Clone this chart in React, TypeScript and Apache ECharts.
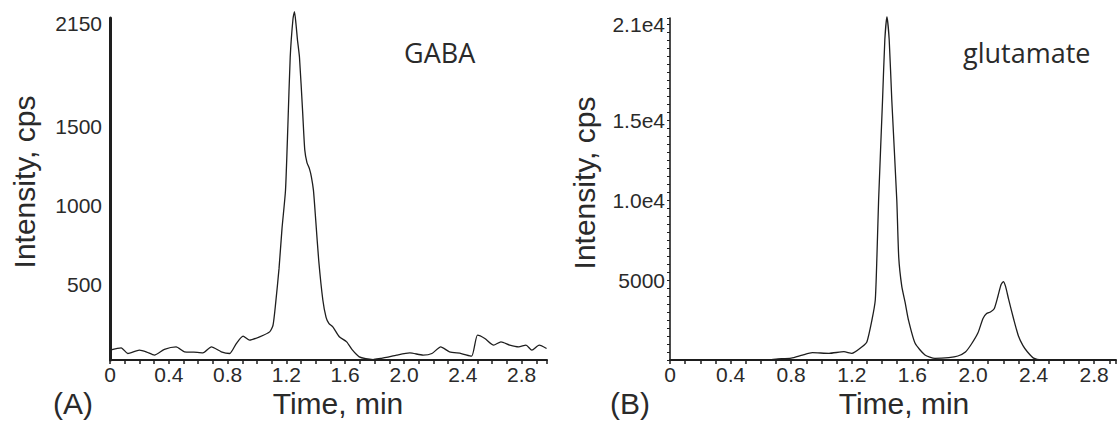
import React, { useEffect, useRef } from "react";
import * as echarts from "echarts";

// Panel A: GABA chromatogram (time in min, intensity in cps)
const timeA = [
  0, 0.076, 0.121, 0.2, 0.25, 0.302, 0.37, 0.45, 0.507, 0.57, 0.632, 0.69, 0.757, 0.814, 0.859,
  0.905, 0.95, 1.018, 1.086, 1.109, 1.127, 1.15, 1.17, 1.194, 1.21, 1.226, 1.245, 1.255, 1.265,
  1.275, 1.289, 1.31, 1.325, 1.34, 1.357, 1.37, 1.384, 1.4, 1.42, 1.448, 1.47, 1.49, 1.516, 1.56,
  1.61, 1.65, 1.696, 1.74, 1.79, 1.84, 1.88, 1.95, 2.04, 2.13, 2.19, 2.25, 2.31, 2.39, 2.46, 2.5,
  2.55, 2.61, 2.66, 2.72, 2.78, 2.83, 2.87, 2.92, 2.97,
];
const intensityA = [
  82, 97, 61, 82, 70, 51, 87, 103, 72, 70, 65, 103, 72, 61, 124,
  171, 146, 167, 198, 240, 380, 600, 850, 1095, 1500, 1937, 2180, 2225, 2150,
  2050, 1937, 1600, 1350, 1270, 1230, 1180, 1095, 900, 650, 400, 290, 250, 230, 167,
  135, 82, 40, 28, 23, 30, 36, 51, 65, 51, 61, 103, 72, 61, 44, 177,
  156, 114, 135, 114, 103, 114, 82, 114, 93,
];

// Panel B: glutamate chromatogram
const timeB = [
  0, 0.65, 0.7, 0.8, 0.874, 0.94, 1.05, 1.148, 1.2, 1.268, 1.3, 1.333, 1.355, 1.366, 1.377,
  1.403, 1.418, 1.432, 1.447, 1.464, 1.497, 1.51, 1.53, 1.552, 1.574, 1.618, 1.683, 1.749,
  1.84, 1.9, 1.95, 1.99, 2.033, 2.066, 2.09, 2.115, 2.14, 2.165, 2.185, 2.2, 2.215, 2.235,
  2.27, 2.3, 2.33, 2.36, 2.4, 2.45, 2.6, 2.94,
];
const intensityB = [
  0, 0, 60, 120, 312, 458, 417, 521, 417, 833, 1146, 2500, 3750, 6500, 10000,
  16250, 20000, 21450, 20000, 16250, 10000, 6400, 4600, 3600, 2500, 1042, 312, 104,
  150, 250, 500, 1000, 1700, 2600, 2900, 3000, 3200, 4000, 4700, 4900, 4600, 3800,
  2500, 1500, 900, 500, 120, 0, 0, 0,
];

const xTickLabels = ["0", "0.4", "0.8", "1.2", "1.6", "2.0", "2.4", "2.8"];
const yTickValuesA = [500, 1000, 1500, 2150];
const yTickLabelsA = ["500", "1000", "1500", "2150"];
const yTickValuesB = [5000, 10000, 15000, 21000];
const yTickLabelsB = ["5000", "1.0e4", "1.5e4", "2.1e4"];

const INK = "#1e1e1e";
const LABEL = "#2a2a2a";
const SANS = "'Liberation Sans', Arial, sans-serif";

function xFormatter(v: number) {
  for (const l of xTickLabels) {
    if (Math.abs(parseFloat(l) - v) < 1e-6) return l;
  }
  return "";
}

function makeYFormatter(vals: number[], labels: string[]) {
  return (v: number) => {
    for (let i = 0; i < vals.length; i++) {
      if (Math.abs(vals[i] - v) < 1e-6) return labels[i];
    }
    return "";
  };
}

const zip = (xs: number[], ys: number[]) => xs.map((x, i) => [x, ys[i]]);

export default function App() {
  const ref = useRef<HTMLDivElement>(null);
  useEffect(() => {
    if (!ref.current) return;
    const chart = echarts.init(ref.current, undefined, { renderer: "svg" });
    const xAxisBase = (gridIndex: number, max: number) => ({
      type: "value",
      gridIndex,
      min: 0,
      max,
      interval: 0.1,
      axisLine: { show: true, onZero: false, lineStyle: { color: INK, width: 2 } },
      axisTick: { show: true, length: 4, lineStyle: { color: INK, width: 1.5 } },
      axisLabel: {
        formatter: xFormatter,
        margin: 4,
        fontSize: 21,
        fontFamily: SANS,
        color: LABEL,
        showMinLabel: true,
        showMaxLabel: true,
      },
      splitLine: { show: false },
    });
    const lineSeries = (idx: number, data: number[][]) => ({
      type: "line",
      xAxisIndex: idx,
      yAxisIndex: idx,
      data,
      symbol: "none",
      showSymbol: false,
      smooth: 0.2,
      clip: false,
      lineStyle: { color: INK, width: 1.3 },
    });
    const textEl = (text: string, x: number, y: number, size: number, family: string, align: string, rotation = 0) => ({
      type: "text",
      x,
      y,
      rotation,
      style: {
        text,
        fill: LABEL,
        font: `${size}px ${family}`,
        align,
        verticalAlign: "middle",
      },
    });
    chart.setOption({
      animation: false,
      backgroundColor: "#ffffff",
      grid: [
        { left: 110, top: 18, width: 437, height: 342 },
        { left: 670, top: 18, width: 449, height: 342 },
      ],
      xAxis: [xAxisBase(0, 2.973), xAxisBase(1, 2.944)],
      yAxis: [
        {
          type: "value",
          gridIndex: 0,
          min: 20,
          max: 2185,
          interval: 10,
          axisLine: { show: true, onZero: false, lineStyle: { color: INK, width: 3 } },
          axisTick: { show: false },
          axisLabel: {
            formatter: makeYFormatter(yTickValuesA, yTickLabelsA),
            margin: 8,
            fontSize: 21,
            fontFamily: SANS,
            color: LABEL,
          },
          splitLine: { show: false },
        },
        {
          type: "value",
          gridIndex: 1,
          min: 0,
          max: 21375,
          interval: 500,
          axisLine: { show: true, onZero: false, lineStyle: { color: INK, width: 1.6 } },
          axisTick: { show: true, length: 3, lineStyle: { color: INK, width: 1 } },
          axisLabel: {
            formatter: makeYFormatter(yTickValuesB, yTickLabelsB),
            margin: 5,
            fontSize: 21,
            fontFamily: SANS,
            color: LABEL,
          },
          splitLine: { show: false },
        },
      ],
      series: [lineSeries(0, zip(timeA, intensityA)), lineSeries(1, zip(timeB, intensityB))],
      graphic: [
        textEl("Intensity, cps", 24, 182, 30, SANS, "center", Math.PI / 2),
        textEl("Intensity, cps", 584, 183, 30, SANS, "center", Math.PI / 2),
        textEl("Time, min", 338, 403, 30, SANS, "center"),
        textEl("Time, min", 904, 403, 30, SANS, "center"),
        textEl("(A)", 53, 403, 30, SANS, "left"),
        textEl("(B)", 610, 403, 30, SANS, "left"),
        textEl("GABA", 404, 52, 27, "'Open Sans', sans-serif", "left"),
        textEl("glutamate", 963, 52, 27, "'Open Sans', sans-serif", "left"),
      ],
    });
    return () => chart.dispose();
  }, []);
  return (
    <div
      ref={ref}
      style={{ position: "absolute", left: 0, top: 0, width: 1119, height: 421, background: "#fff" }}
    />
  );
}
